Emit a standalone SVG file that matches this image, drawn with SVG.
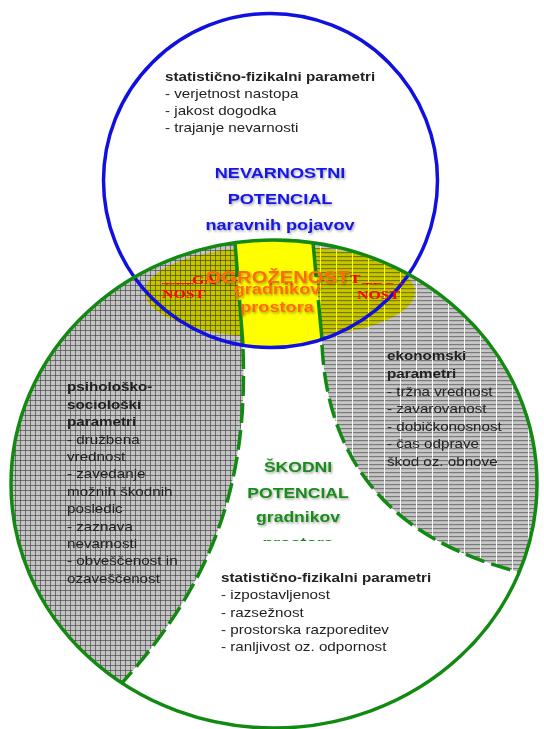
<svg xmlns="http://www.w3.org/2000/svg" width="544" height="729" viewBox="0 0 544 729">
<style>
.t{font-family:"Liberation Sans",Arial,sans-serif;font-size:13px;fill:#222}
.b{font-weight:bold}
.ttl{font-family:"Liberation Sans",Arial,sans-serif;font-weight:bold;text-anchor:middle}
.blue{fill:#1414e6;font-size:15.5px;filter:url(#sh)}
.grn{fill:#1a8a1a;font-size:15px;filter:url(#sh)}
.org{fill:#ff6a10;filter:url(#sh)}
.red{font-family:"Liberation Serif","Times New Roman",serif;font-weight:bold;font-size:13.5px;fill:#ff0000}
.gl{fill:none;stroke:#128a12;stroke-width:3.5}
.dash{stroke-dasharray:20 7}
</style>
<defs>
<filter id="sh" x="-10%" y="-30%" width="120%" height="160%">
<feDropShadow dx="1" dy="1.5" stdDeviation="1" flood-color="#000" flood-opacity="0.35"/>
</filter>
<pattern id="grid" width="5" height="5" patternUnits="userSpaceOnUse">
<path d="M0 0.5H5M0.5 0V5" stroke="#3a3a3a" stroke-width="1" stroke-opacity="0.6" fill="none"/>
</pattern>
<pattern id="stripes" width="16" height="4" patternUnits="userSpaceOnUse">
<rect x="0" y="0" width="16" height="1.2" fill="#7a7a7a"/>
<rect x="0" y="0" width="1" height="4" fill="#ffffff"/>
</pattern>
<clipPath id="clipPr"><rect x="200" y="530" width="200" height="11"/></clipPath>
<clipPath id="clipRem"><rect x="150" y="281.5" width="270" height="3"/></clipPath>
</defs>
<rect width="544" height="729" fill="#fff"/>

<g id="psycho-region">
<path d="M235,242.7 A263 244 0 0 0 122,683 C215,580 248,480 243,349 L243,345.2 Z" fill="#c4c4c4"/>
<path d="M235,242.7 A263 244 0 0 0 122,683 C215,580 248,480 243,349 L243,345.2 Z" fill="url(#grid)"/>
</g>
<g id="econ-region">
<path d="M313,242.7 A263 244 0 0 1 519,572 C400,542 328,470 322,345 L322,339.4 Z" fill="#c6c6c6"/>
<path d="M313,242.7 A263 244 0 0 1 519,572 C400,542 328,470 322,345 L322,339.4 Z" fill="url(#stripes)"/>
</g>
<g id="exposure-area">
<path d="M235,242.7 A263 244 0 0 1 313,242.7 L322,339.4 A167 167 0 0 1 243,345.2 Z" fill="#ffff00"/>
<ellipse cx="280" cy="292" rx="135" ry="46" fill="#ffff00" style="mix-blend-mode:multiply"/>
</g>

<g id="connectors">
<path class="gl" d="M235,242.7 L237.7,277 M239.5,300 L243,345.2"/>
<path class="gl" d="M313,242.7 L316.2,277 M318.3,300 L322,339.4"/>
<path class="gl dash" d="M243,349 C248,480 215,580 122,683"/>
<path class="gl dash" d="M322,345 C328,470 400,542 519,572"/>
</g>

<g id="hazard-potential">
<circle cx="270.5" cy="180.5" r="167" fill="none" stroke="#1010e0" stroke-width="3.5"/>
<g transform="translate(165,0) scale(1.17,1)">
<text class="t" y="81"><tspan x="0" class="b">statistično-fizikalni parametri</tspan><tspan x="0" dy="16.9">- verjetnost nastopa</tspan><tspan x="0" dy="16.9">- jakost dogodka</tspan><tspan x="0" dy="16.9">- trajanje nevarnosti</tspan></text>
</g>
<g transform="translate(280,0) scale(1.17,1)">
<text class="ttl blue" x="0" y="178.5">NEVARNOSTNI</text>
<text class="ttl blue" x="0" y="204.5">POTENCIAL</text>
<text class="ttl blue" x="0" y="230">naravnih  pojavov</text>
</g>
</g>

<g id="damage-potential">
<ellipse cx="274" cy="484" rx="263" ry="244" fill="none" stroke="#128a12" stroke-width="3.5"/>
<g transform="translate(298,0) scale(1.17,1)">
<text class="ttl grn" x="0" y="472">ŠKODNI</text>
<text class="ttl grn" x="0" y="498">POTENCIAL</text>
<text class="ttl grn" x="0" y="522">gradnikov</text>
</g>
<g clip-path="url(#clipPr)">
<g transform="translate(298,0) scale(1.17,1)">
<text class="ttl grn" x="0" y="548">prostora</text>
</g>
</g>
</g>

<g id="exposure">
<g transform="translate(277,0) scale(1.17,1)">
<text class="ttl org" x="0" y="294.5" style="font-size:15.5px">gradnikov</text>
<text class="ttl org" x="0" y="312" style="font-size:15.5px">prostora</text>
</g>
<g clip-path="url(#clipRem)">
<g transform="translate(162,0) scale(1.17,1)"><text class="red" x="0" y="291">TTT</text></g>
<g transform="translate(362,0) scale(1.17,1)"><text class="red" x="0" y="291">TEGA</text></g>
</g>
<g transform="translate(192,0) scale(1.17,1)"><text class="red" x="0" y="284">GA</text></g>
<g transform="translate(350,0) scale(1.17,1)"><text class="red" x="0" y="283">T</text></g>
<g transform="translate(162,0) scale(1.17,1)"><text class="red" x="0" y="298.5">NOST</text></g>
<g transform="translate(357,0) scale(1.17,1)"><text class="red" x="0" y="299">NOST</text></g>
<g transform="translate(277.5,0) scale(1.17,1)">
<text class="ttl org" x="0" y="283.5" style="font-size:17.3px">OGROŽENOST</text>
</g>
</g>

<g id="psycho-params">
<g transform="translate(67,0) scale(1.17,1)">
<text class="t" y="391.5"><tspan x="0" class="b">psihološko-</tspan><tspan x="0" dy="17.4" class="b">sociološki</tspan><tspan x="0" dy="17.4" class="b">parametri</tspan><tspan x="0" dy="17.4">- družbena</tspan><tspan x="0" dy="17.4">vrednost</tspan><tspan x="0" dy="17.4">- zavedanje</tspan><tspan x="0" dy="17.4">možnih škodnih</tspan><tspan x="0" dy="17.4">posledic</tspan><tspan x="0" dy="17.4">- zaznava</tspan><tspan x="0" dy="17.4">nevarnosti</tspan><tspan x="0" dy="17.4">- obveščenost in</tspan><tspan x="0" dy="17.4">ozaveščenost</tspan></text>
</g>
</g>

<g id="econ-params">
<g transform="translate(387,0) scale(1.17,1)">
<text class="t" y="360.5"><tspan x="0" class="b">ekonomski</tspan><tspan x="0" dy="17.6" class="b">parametri</tspan><tspan x="0" dy="17.6">- tržna vrednost</tspan><tspan x="0" dy="17.6">- zavarovanost</tspan><tspan x="0" dy="17.6">- dobičkonosnost</tspan><tspan x="0" dy="17.6">- čas odprave</tspan><tspan x="0" dy="17.6">škod oz. obnove</tspan></text>
</g>
</g>

<g id="physical-params">
<g transform="translate(221,0) scale(1.17,1)">
<text class="t" y="582"><tspan x="0" class="b">statistično-fizikalni parametri</tspan><tspan x="0" dy="17.3">- izpostavljenost</tspan><tspan x="0" dy="17.3">- razsežnost</tspan><tspan x="0" dy="17.3">- prostorska razporeditev</tspan><tspan x="0" dy="17.3">- ranljivost oz. odpornost</tspan></text>
</g>
</g>
</svg>
